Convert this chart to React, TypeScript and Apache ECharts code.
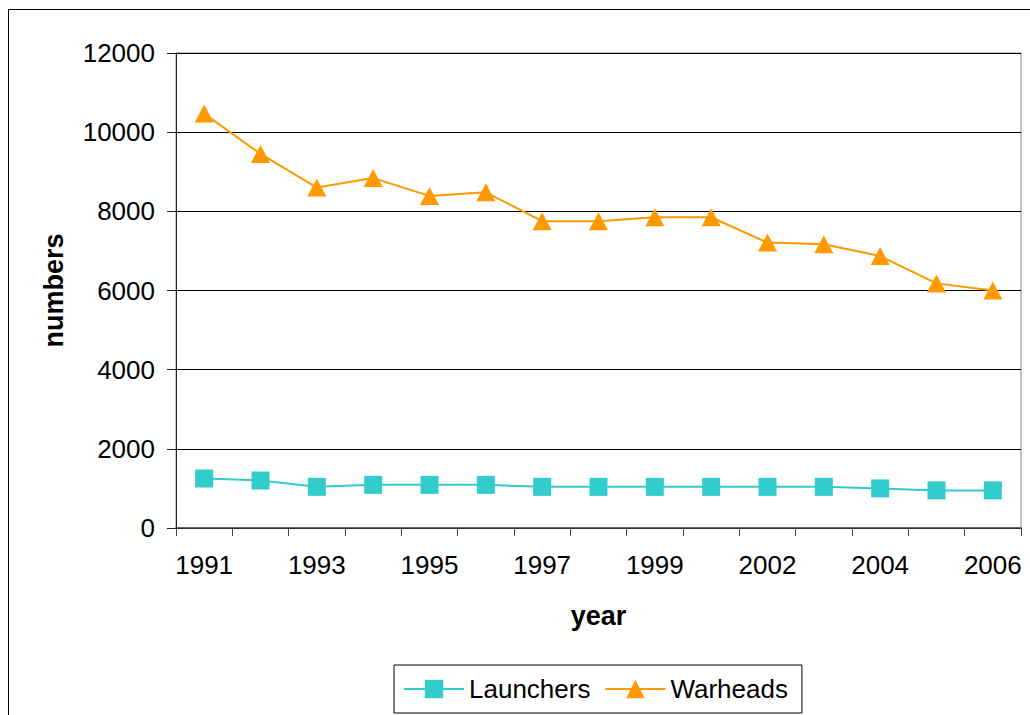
import React, { useEffect, useRef } from "react";
import * as echarts from "echarts";

const years = ["1991", "1992", "1993", "1994", "1995", "1996", "1997", "1998", "1999", "2000", "2002", "2003", "2004", "2005", "2006"];
const launchers = [1250, 1200, 1040, 1090, 1090, 1090, 1040, 1040, 1040, 1040, 1040, 1040, 1000, 950, 950];
const warheads = [10470, 9450, 8600, 8840, 8390, 8480, 7750, 7750, 7850, 7850, 7210, 7170, 6870, 6180, 6000];
const yTicks = { min: 0, max: 12000, interval: 2000 };

const FONT = "'Liberation Sans', Arial, sans-serif";

export default function App() {
  const ref = useRef<HTMLDivElement>(null);
  useEffect(() => {
    document.body.style.margin = "0";
    const chart = echarts.init(ref.current!, null, { renderer: "svg" });
    chart.setOption({
      animation: false,
      backgroundColor: "#fff",
      textStyle: { fontFamily: FONT },
      graphic: [
        {
          type: "rect",
          shape: { x: 8.5, y: 9.5, width: 1100, height: 900 },
          style: { fill: "none", stroke: "#000", lineWidth: 1 },
          silent: true,
          z: -1,
        },
      ],
      grid: {
        left: 176,
        top: 53,
        width: 845,
        height: 475,
        show: true,
        borderColor: "#888",
        borderWidth: 1,
        backgroundColor: "transparent",
      },
      legend: {
        left: 394,
        top: 665,
        orient: "horizontal",
        borderColor: "#000",
        borderWidth: 1,
        padding: [11, 14, 11, 9],
        itemWidth: 60,
        itemHeight: 23,
        itemGap: 14,
        textStyle: { fontSize: 26, color: "#000", fontFamily: FONT },
        data: ["Launchers", "Warheads"],
      },
      xAxis: {
        type: "category",
        data: years,
        boundaryGap: true,
        name: "year",
        nameLocation: "middle",
        nameGap: 74,
        nameTextStyle: { fontSize: 27, fontWeight: "bold", color: "#000", fontFamily: FONT },
        axisLine: { lineStyle: { color: "#444", width: 1.5 } },
        axisTick: { show: true, interval: 0, length: 8, lineStyle: { color: "#444" } },
        axisLabel: { interval: 1, fontSize: 26, color: "#000", margin: 24, fontFamily: FONT },
        splitLine: { show: false },
      },
      yAxis: {
        type: "value",
        min: yTicks.min,
        max: yTicks.max,
        interval: yTicks.interval,
        name: "numbers",
        nameLocation: "middle",
        nameGap: 109,
        nameTextStyle: { fontSize: 27, fontWeight: "bold", color: "#000", fontFamily: FONT },
        axisLine: { show: true, lineStyle: { color: "#222", width: 1 } },
        axisTick: { show: true, length: 9, lineStyle: { color: "#222" } },
        axisLabel: {
          fontSize: 26,
          color: "#000",
          margin: 21,
          fontFamily: FONT,
          formatter: (v: number) => String(v),
        },
        splitLine: { show: true, lineStyle: { color: "#000", width: 1 } },
      },
      series: [
        {
          name: "Launchers",
          type: "line",
          data: launchers,
          symbol: "rect",
          symbolSize: 18,
          itemStyle: { color: "#33CCCC" },
          lineStyle: { color: "#33CCCC", width: 2 },
        },
        {
          name: "Warheads",
          type: "line",
          data: warheads,
          symbol: "triangle",
          symbolSize: [19, 18],
          itemStyle: { color: "#FF9900" },
          lineStyle: { color: "#FF9900", width: 2 },
        },
      ],
    });
    return () => chart.dispose();
  }, []);
  return (
    <div
      ref={ref}
      style={{ position: "absolute", left: 0, top: 0, width: 1030, height: 715 }}
    />
  );
}
